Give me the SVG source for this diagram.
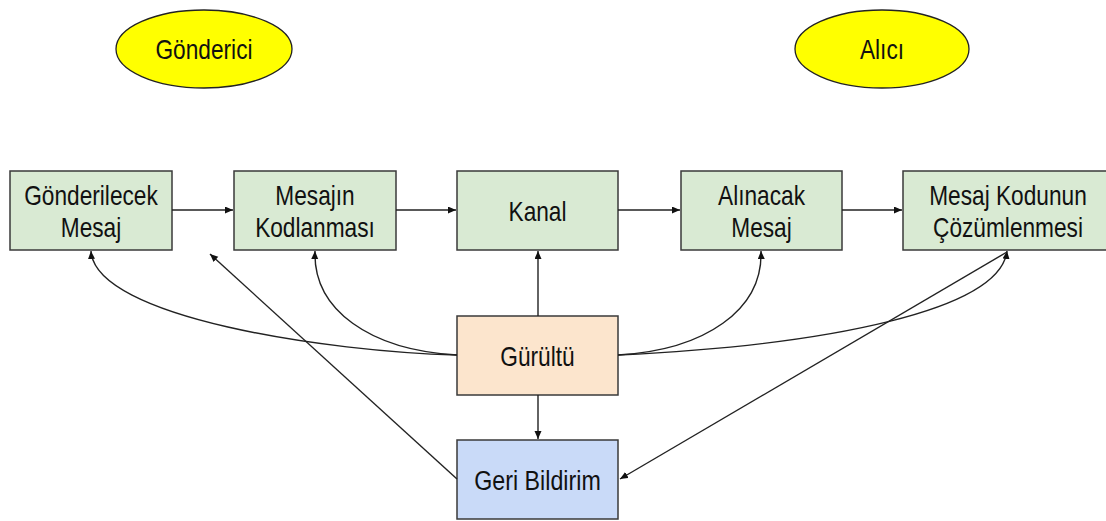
<svg xmlns="http://www.w3.org/2000/svg" width="1106" height="521" viewBox="0 0 1106 521">
  <style>
    .box { stroke: #3a3a3a; stroke-width: 1.5; }
    .green { fill: #d9ead3; }
    .orange { fill: #fce5cd; }
    .blue { fill: #c9daf8; }
    .oval { fill: #ffff00; stroke: #222; stroke-width: 1.3; }
    .lbl { font-family: "Liberation Sans", Arial, sans-serif; font-size: 28px; fill: #111; text-anchor: middle; }
    .con { fill: none; stroke: #222; stroke-width: 1.4; }
  </style>
  <defs>
    <marker id="arr" markerUnits="userSpaceOnUse" markerWidth="10" markerHeight="8" refX="8" refY="3.5" orient="auto">
      <path d="M0,0 L8,3.5 L0,7 Z" fill="#111"/>
    </marker>
  </defs>
  <rect width="1106" height="521" fill="#ffffff"/>

  <g id="gonderici">
    <ellipse class="oval" cx="204" cy="49" rx="88" ry="39"/>
    <text class="lbl" x="0" y="59" transform="translate(204 0) scale(0.81 1)">Gönderici</text>
  </g>
  <g id="alici">
    <ellipse class="oval" cx="882" cy="49" rx="87" ry="39"/>
    <text class="lbl" x="0" y="59" transform="translate(882 0) scale(0.81 1)">Alıcı</text>
  </g>

  <g id="gonderilecek-mesaj">
    <rect class="box green" x="10" y="171" width="162" height="79"/>
    <text class="lbl" x="0" y="205" transform="translate(91 0) scale(0.81 1)">Gönderilecek</text>
    <text class="lbl" x="0" y="237" transform="translate(91 0) scale(0.81 1)">Mesaj</text>
  </g>
  <g id="mesajin-kodlanmasi">
    <rect class="box green" x="234" y="171" width="162" height="79"/>
    <text class="lbl" x="0" y="205" transform="translate(315 0) scale(0.81 1)">Mesajın</text>
    <text class="lbl" x="0" y="237" transform="translate(315 0) scale(0.81 1)">Kodlanması</text>
  </g>
  <g id="kanal">
    <rect class="box green" x="457" y="171" width="161" height="79"/>
    <text class="lbl" x="0" y="221" transform="translate(537.5 0) scale(0.81 1)">Kanal</text>
  </g>
  <g id="alinacak-mesaj">
    <rect class="box green" x="681" y="171" width="161" height="79"/>
    <text class="lbl" x="0" y="205" transform="translate(761.5 0) scale(0.81 1)">Alınacak</text>
    <text class="lbl" x="0" y="237" transform="translate(761.5 0) scale(0.81 1)">Mesaj</text>
  </g>
  <g id="mesaj-kodunun-cozumlenmesi">
    <rect class="box green" x="903" y="171" width="210" height="79"/>
    <text class="lbl" x="0" y="205" transform="translate(1008 0) scale(0.81 1)">Mesaj Kodunun</text>
    <text class="lbl" x="0" y="237" transform="translate(1008 0) scale(0.81 1)">Çözümlenmesi</text>
  </g>
  <g id="gurultu">
    <rect class="box orange" x="457" y="316" width="161" height="79"/>
    <text class="lbl" x="0" y="366" transform="translate(537.5 0) scale(0.81 1)">Gürültü</text>
  </g>
  <g id="geri-bildirim">
    <rect class="box blue" x="457" y="440" width="161" height="79"/>
    <text class="lbl" x="0" y="490" transform="translate(537.5 0) scale(0.83 1)">Geri Bildirim</text>
  </g>

  <g id="connectors">
    <path class="con" d="M172,210 L233,210" marker-end="url(#arr)"/>
    <path class="con" d="M396,210 L456,210" marker-end="url(#arr)"/>
    <path class="con" d="M618,210 L680,210" marker-end="url(#arr)"/>
    <path class="con" d="M842,210 L902,210" marker-end="url(#arr)"/>
    <path class="con" d="M538,316 L538,251" marker-end="url(#arr)"/>
    <path class="con" d="M538,395 L538,439" marker-end="url(#arr)"/>
    <path class="con" d="M457,355 C330,352 95,318 91,251" marker-end="url(#arr)"/>
    <path class="con" d="M457,355 C370,350 313,310 315,251" marker-end="url(#arr)"/>
    <path class="con" d="M618,355 C705,350 763,310 761,251" marker-end="url(#arr)"/>
    <path class="con" d="M618,355 C830,345 1000,310 1007,251" marker-end="url(#arr)"/>
    <path class="con" d="M457,479 L210,254" marker-end="url(#arr)"/>
    <path class="con" d="M1007,252 L620,479" marker-end="url(#arr)"/>
  </g>
</svg>
